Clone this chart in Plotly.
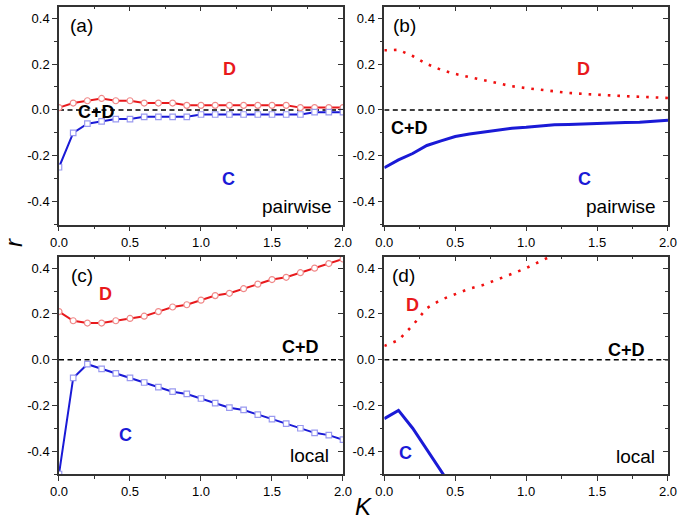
import plotly.graph_objects as go

# ---------------- data ----------------
K = [0.0, 0.1, 0.2, 0.3, 0.4, 0.5, 0.6, 0.7, 0.8, 0.9, 1.0,
     1.1, 1.2, 1.3, 1.4, 1.5, 1.6, 1.7, 1.8, 1.9, 2.0]

# (a) pairwise, markers
a_D = [0.01, 0.03, 0.04, 0.05, 0.04, 0.04, 0.03, 0.03, 0.03, 0.02, 0.02,
       0.02, 0.02, 0.02, 0.02, 0.02, 0.02, 0.01, 0.01, 0.01, 0.01]
a_C = [-0.25, -0.10, -0.06, -0.05, -0.04, -0.04, -0.03, -0.03, -0.03, -0.03, -0.02,
       -0.02, -0.02, -0.02, -0.02, -0.02, -0.02, -0.02, -0.01, -0.01, -0.01]

# (b) pairwise, lines
b_D = [0.26, 0.262, 0.235, 0.20, 0.175, 0.157, 0.143, 0.13, 0.115, 0.103, 0.095,
       0.087, 0.081, 0.074, 0.07, 0.065, 0.063, 0.06, 0.057, 0.054, 0.052]
b_C = [-0.252, -0.218, -0.19, -0.155, -0.135, -0.116, -0.105, -0.097, -0.087, -0.08, -0.076,
       -0.071, -0.065, -0.064, -0.061, -0.058, -0.057, -0.055, -0.054, -0.051, -0.045]

# (c) local, markers
c_D = [0.21, 0.17, 0.16, 0.16, 0.17, 0.18, 0.19, 0.21, 0.23, 0.24, 0.26,
       0.28, 0.29, 0.31, 0.33, 0.35, 0.36, 0.38, 0.40, 0.42, 0.44]
c_C = [-0.50, -0.08, -0.02, -0.04, -0.06, -0.08, -0.10, -0.12, -0.14, -0.15, -0.17,
       -0.19, -0.21, -0.22, -0.24, -0.26, -0.28, -0.30, -0.32, -0.33, -0.35]

# (d) local, lines
d_K_D = [0.0, 0.1, 0.2, 0.3, 0.4, 0.5, 0.6, 0.7, 0.8, 0.9, 1.0, 1.1, 1.2]
d_D = [0.06, 0.085, 0.15, 0.225, 0.262, 0.287, 0.31, 0.327, 0.35, 0.375, 0.40, 0.43, 0.46]
d_K_C = [0.0, 0.1, 0.2, 0.3, 0.4, 0.5]
d_C = [-0.258, -0.222, -0.30, -0.39, -0.485, -0.58]

zero_K = [0.0, 2.0]
zero_r = [0.0, 0.0]

x_tickvals = [0.0, 0.5, 1.0, 1.5, 2.0]
x_ticktext = ["0.0", "0.5", "1.0", "1.5", "2.0"]
x_minor = [0.25, 0.75, 1.25, 1.75]
y_tickvals = [-0.4, -0.2, 0.0, 0.2, 0.4]
y_ticktext = ["-0.4", "-0.2", "0.0", "0.2", "0.4"]
y_minor = [-0.5, -0.3, -0.1, 0.1, 0.3]

# ---------------- style ----------------
FONT = "Liberation Sans, Arial, sans-serif"
RED = "#e8191c"
RED_DOT = "#f01010"
BLUE = "#1a1ad6"
RED_MK = "#f08a8a"
BLUE_MK = "#9a9af0"
AX = "#333333"

fig = go.Figure()

def add(x, y, ax, **kw):
    xs = "x" if ax == 1 else f"x{ax}"
    ys = "y" if ax == 1 else f"y{ax}"
    fig.add_trace(go.Scatter(x=x, y=y, xaxis=xs, yaxis=ys, showlegend=False,
                             hoverinfo="skip", **kw))

for ax in (1, 2, 3, 4):
    add(zero_K, zero_r, ax, mode="lines",
        line=dict(color="black", width=1.5, dash="5px,3.5px"))

# (a)
add(K, a_D, 1, mode="lines+markers", line=dict(color=RED, width=2),
    marker=dict(symbol="circle", size=6, color="white", line=dict(color=RED_MK, width=1.2)))
add(K, a_C, 1, mode="lines+markers", line=dict(color=BLUE, width=2),
    marker=dict(symbol="square", size=5.5, color="white", line=dict(color=BLUE_MK, width=1.2)))
# (b)
add(K, b_D, 2, mode="lines", line=dict(color=RED_DOT, width=2.6, dash="2.6px,7px"))
add(K, b_C, 2, mode="lines", line=dict(color=BLUE, width=3))
# (c)
add(K, c_D, 3, mode="lines+markers", line=dict(color=RED, width=2),
    marker=dict(symbol="circle", size=6, color="white", line=dict(color=RED_MK, width=1.2)))
add(K, c_C, 3, mode="lines+markers", line=dict(color=BLUE, width=2),
    marker=dict(symbol="square", size=5.5, color="white", line=dict(color=BLUE_MK, width=1.2)))
# (d)
add(d_K_D, d_D, 4, mode="lines", line=dict(color=RED_DOT, width=2.6, dash="2.6px,7.2px"))
add(d_K_C, d_C, 4, mode="lines", line=dict(color=BLUE, width=3))

# dummy traces for mirror (top/right) axes
for ax in (5, 6, 7, 8):
    add([0.0], [0.0], ax, mode="lines", line=dict(width=0), opacity=0)

X_DOM = {1: [0.08613, 0.50073], 2: [0.56102, 0.97518], 3: [0.08613, 0.50073], 4: [0.56102, 0.97518]}
Y_DOM = {1: [0.57543, 0.98733], 2: [0.57543, 0.98733], 3: [0.10397, 0.51474], 4: [0.10397, 0.51474]}

layout = dict(
    width=685, height=529,
    margin=dict(l=0, r=0, t=0, b=0),
    paper_bgcolor="white", plot_bgcolor="white",
    font=dict(family=FONT, color="black"),
    showlegend=False,
)

def nm(prefix, i):
    return prefix if i == 1 else f"{prefix}{i}"

for i in (1, 2, 3, 4):
    xa = dict(domain=X_DOM[i], anchor=nm("y", i), range=[0, 2],
              tickmode="array", tickvals=x_tickvals, ticktext=x_ticktext,
              ticks="outside", ticklen=5, tickwidth=1.2, tickcolor=AX,
              showline=True, linecolor=AX, linewidth=1.5, mirror=False,
              showgrid=False, zeroline=False, automargin=False,
              tickfont=dict(family=FONT, size=13, color="black"),
              minor=dict(tickmode="array", tickvals=x_minor, ticks="outside",
                         ticklen=3, tickwidth=1.2, tickcolor=AX, showgrid=False))
    ya = dict(domain=Y_DOM[i], anchor=nm("x", i), range=[-0.5, 0.45],
              tickmode="array", tickvals=y_tickvals, ticktext=y_ticktext,
              ticks="outside", ticklen=5, tickwidth=1.2, tickcolor=AX,
              showline=True, linecolor=AX, linewidth=1.5, mirror=False,
              showgrid=False, zeroline=False, automargin=False,
              tickfont=dict(family=FONT, size=13, color="black"),
              minor=dict(tickmode="array", tickvals=y_minor, ticks="outside",
                         ticklen=3, tickwidth=1.2, tickcolor=AX, showgrid=False))
    layout[nm("xaxis", i)] = xa
    layout[nm("yaxis", i)] = ya
    j = i + 4
    layout[f"xaxis{j}"] = dict(overlaying=nm("x", i), anchor=nm("y", i), side="top",
                               range=[0, 2], tickmode="array", tickvals=x_tickvals,
                               showticklabels=False, ticks="inside", ticklen=5,
                               tickwidth=1.2, tickcolor=AX, showline=True, linecolor=AX,
                               linewidth=1.5, showgrid=False, zeroline=False, automargin=False,
                               minor=dict(tickmode="array", tickvals=x_minor, ticks="inside",
                                          ticklen=3, tickwidth=1.2, tickcolor=AX, showgrid=False))
    layout[f"yaxis{j}"] = dict(overlaying=nm("y", i), anchor=nm("x", i), side="right",
                               range=[-0.5, 0.45], tickmode="array", tickvals=y_tickvals,
                               showticklabels=False, ticks="inside", ticklen=5,
                               tickwidth=1.2, tickcolor=AX, showline=True, linecolor=AX,
                               linewidth=1.5, showgrid=False, zeroline=False, automargin=False,
                               minor=dict(tickmode="array", tickvals=y_minor, ticks="inside",
                                          ticklen=3, tickwidth=1.2, tickcolor=AX, showgrid=False))

fig.update_layout(**layout)

def ann(i, x, y, text, color="black", size=18, bold=False, xanchor="center"):
    t = f"<b>{text}</b>" if bold else text
    fig.add_annotation(x=x, y=y, xref=nm("x", i), yref=nm("y", i), text=t,
                       showarrow=False, xanchor=xanchor, yanchor="middle",
                       font=dict(family=FONT, size=size, color=color))

# panel (a)
ann(1, 0.066, 0.37, "(a)", size=19, xanchor="left")
ann(1, 1.204, 0.18, "D", RED, 18, True)
ann(1, 0.265, -0.01, "C+D", "black", 18, True)
ann(1, 1.197, -0.30, "C", BLUE, 18, True)
ann(1, 1.674, -0.42, "pairwise", size=19)
# panel (b)
ann(2, 0.045, 0.37, "(b)", size=19, xanchor="left")
ann(2, 1.402, 0.18, "D", RED, 18, True)
ann(2, 0.181, -0.077, "C+D", "black", 18, True)
ann(2, 1.414, -0.30, "C", BLUE, 18, True)
ann(2, 1.670, -0.42, "pairwise", size=19)
# panel (c)
ann(3, 0.073, 0.368, "(c)", size=19, xanchor="left")
ann(3, 0.328, 0.288, "D", RED, 18, True)
ann(3, 1.699, 0.055, "C+D", "black", 18, True)
ann(3, 0.468, -0.33, "C", BLUE, 18, True)
ann(3, 1.761, -0.421, "local", size=19)
# panel (d)
ann(4, 0.04, 0.368, "(d)", size=19, xanchor="left")
ann(4, 0.197, 0.237, "D", RED, 18, True)
ann(4, 1.708, 0.044, "C+D", "black", 18, True)
ann(4, 0.151, -0.41, "C", BLUE, 18, True)
ann(4, 1.772, -0.425, "local", size=19)

# axis titles
fig.add_annotation(x=0.019, y=0.5406, xref="paper", yref="paper", text="<i>r</i>",
                   showarrow=False, textangle=-90, xanchor="center", yanchor="middle",
                   font=dict(family=FONT, size=24, color="black"))
fig.add_annotation(x=0.530, y=0.0416, xref="paper", yref="paper", text="<i>K</i>",
                   showarrow=False, xanchor="center", yanchor="middle",
                   font=dict(family=FONT, size=24, color="black"))

fig.write_html("out.html",
               config={"displayModeBar": False},
               post_script="document.body.style.margin='0';document.body.style.overflow='hidden';")
